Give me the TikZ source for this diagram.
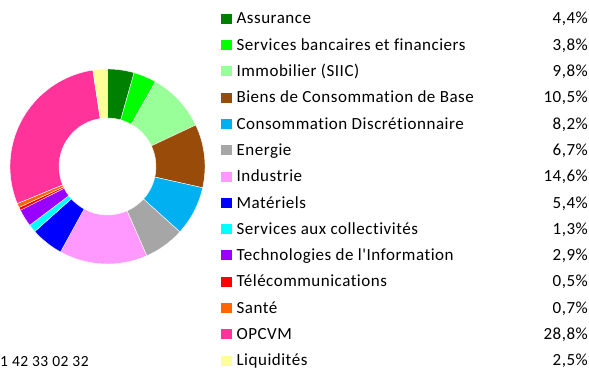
\documentclass[tikz,border=0pt]{standalone}
\usepackage{fontspec}
\setmainfont{Carlito}[Ligatures={TeXOff,NoCommon}, LetterSpace=3]
\usetikzlibrary{positioning}
\definecolor{assur}{HTML}{008000}
\definecolor{banque}{HTML}{00FF00}
\definecolor{immo}{HTML}{99FF99}
\definecolor{biens}{HTML}{994C0A}
\definecolor{discr}{HTML}{00B0F0}
\definecolor{energ}{HTML}{A6A6A6}
\definecolor{indus}{HTML}{FF99FF}
\definecolor{mater}{HTML}{0000FF}
\definecolor{collec}{HTML}{00FFFF}
\definecolor{techno}{HTML}{9900FF}
\definecolor{telec}{HTML}{FF0000}
\definecolor{sante}{HTML}{FF6600}
\definecolor{opcvm}{HTML}{FF3399}
\definecolor{liquid}{HTML}{FFFF99}
\tikzset {
  x=1pt, y=1pt,
  % ring segments of the donut
  slice/.style={draw=white, line width=0.4pt},
  % coloured squares of the legend
  marker/.style={minimum width=10.5pt, minimum height=10pt, inner sep=0pt, anchor=south west},
  % legend names and percentages
  entry/.style={font=\fontsize{17}{20}\selectfont, inner sep=0pt},
  pct/.style={entry, anchor=base east},
}

\begin{document}
\begin{tikzpicture}
  \useasboundingbox (0,0) rectangle (589,367);
  \coordinate (c) at (107.5,200.5);

  % donut, clockwise from the top
  \foreach \a/\b/\col in {0/4.4/assur, 4.4/8.2/banque, 8.2/18/immo, 18/28.5/biens,
      28.5/36.7/discr, 36.7/43.4/energ, 43.4/58/indus, 58/63.4/mater,
      63.4/64.7/collec, 64.7/67.6/techno, 67.6/68.1/telec, 68.1/68.8/sante,
      68.8/97.6/opcvm, 97.6/100/liquid} {
    \pgfmathsetmacro{\sa}{90-3.6*\a}
    \pgfmathsetmacro{\ea}{90-3.6*\b}
    \fill[\col, slice, shift={(c)}] (\sa:97.5) arc[start angle=\sa, end angle=\ea, radius=97.5]
      -- (\ea:48.5) arc[start angle=\ea, end angle=\sa, radius=48.5] -- cycle;
  }

  % legend
  \foreach \name/\col/\val [count=\i] in {Assurance/assur/{4,4\%},
      Services bancaires et financiers/banque/{3,8\%}, Immobilier (SIIC)/immo/{9,8\%},
      Biens de Consommation de Base/biens/{10,5\%}, Consommation Discrétionnaire/discr/{8,2\%},
      Energie/energ/{6,7\%}, Industrie/indus/{14,6\%}, Matériels/mater/{5,4\%},
      Services aux collectivités/collec/{1,3\%}, Technologies de l'Information/techno/{2,9\%},
      Télécommunications/telec/{0,5\%}, Santé/sante/{0,7\%}, OPCVM/opcvm/{28,8\%},
      Liquidités/liquid/{2,5\%}} {
    \pgfmathsetmacro{\yb}{343-26.3*(\i-1)}
    \node[marker, fill=\col] (m\i) at (221,\yb) {};
    \node[entry, right=4.5pt of m\i.south east, anchor=base west] (t\i) {\name};
    \node[pct] (p\i) at (588,\yb) {\val};
  }

  \node[font=\fontsize{15.5}{18}\selectfont, inner sep=0pt, anchor=base west] (tel) at (0,0.6) {1 42 33 02 32};
\end{tikzpicture}
\end{document}
